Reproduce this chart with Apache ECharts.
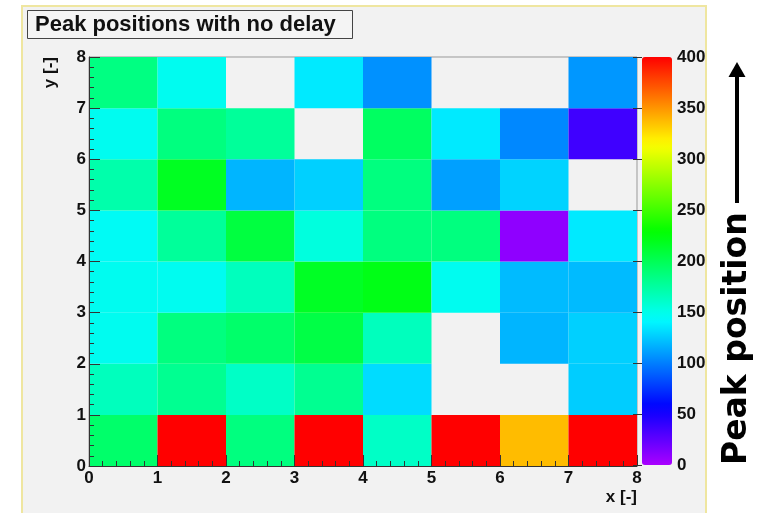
<!DOCTYPE html>
<html>
<head>
<meta charset="utf-8">
<script src="https://cdn.jsdelivr.net/npm/echarts@6/dist/echarts.min.js"></script>
<style>
html,body{margin:0;padding:0;background:#ffffff;}
#chart{width:759px;height:513px;}
</style>
</head>
<body>
<div id="chart"></div>
<script>
// Peak position per cell, columns x = 0..7; null = empty cell
var row0 = [193, 400, 186, 400, 162, 400, 337, 400]; // y 0-1
var row1 = [165, 180, 162, 180, 131, null, null, 126]; // y 1-2
var row2 = [147, 186, 193, 205, 165, null, 118, 127]; // y 2-3
var row3 = [147, 147, 165, 216, 221, 147, 120, 120]; // y 3-4
var row4 = [145, 177, 207, 154, 186, 186, 9, 136];   // y 4-5
var row5 = [171, 217, 118, 127, 186, 111, 128, null]; // y 5-6
var row6 = [147, 186, 177, null, 196, 136, 103, 36];  // y 6-7
var row7 = [185, 147, null, 136, 106, null, null, 108]; // y 7-8
var rows = [row0, row1, row2, row3, row4, row5, row6, row7];

var xTicks = [0, 1, 2, 3, 4, 5, 6, 7, 8];
var yTicks = [0, 1, 2, 3, 4, 5, 6, 7, 8];
var zTicks = [0, 50, 100, 150, 200, 250, 300, 350, 400];

var cells = [];
rows.forEach(function (r, y) {
  r.forEach(function (v, x) {
    if (v !== null) cells.push([x, y, v]);
  });
});

// ROOT-like rainbow palette (hue 280 -> 0)
var palette = [];
for (var i = 0; i <= 40; i++) {
  palette.push('hsl(' + (280 - i * 7) + ',100%,50%)');
}

var labelFont = {fontFamily: 'Liberation Sans', fontWeight: 'bold', fontSize: 17, color: '#111'};

var chart = echarts.init(document.getElementById('chart'), null, {renderer: 'canvas'});
chart.setOption({
  backgroundColor: '#ffffff',
  animation: false,
  graphic: [
    {type: 'rect', z: -10, shape: {x: 22, y: 6, width: 684, height: 520},
     style: {fill: '#f2f2f2', stroke: '#efe6a0', lineWidth: 2}},
    {type: 'rect', z: 100, shape: {x: 27.5, y: 10.5, width: 325, height: 28},
     style: {fill: '#f4f4f4', stroke: '#444', lineWidth: 1}},
    {type: 'text', z: 101, x: 35, y: 25,
     style: {text: 'Peak positions with no delay', fontFamily: 'Liberation Sans', fontWeight: 'bold',
             fontSize: 22, fill: '#111', verticalAlign: 'middle', align: 'left'}},
    {type: 'text', z: 101, x: 50, y: 57, rotation: Math.PI / 2,
     style: {text: 'y [-]', fontFamily: 'Liberation Sans', fontWeight: 'bold', fontSize: 17,
             fill: '#111', align: 'right', verticalAlign: 'middle'}},
    {type: 'text', z: 101, x: 637, y: 497,
     style: {text: 'x [-]', fontFamily: 'Liberation Sans', fontWeight: 'bold', fontSize: 17,
             fill: '#111', align: 'right', verticalAlign: 'middle'}},
    {type: 'text', z: 101, x: 737, y: 465, rotation: Math.PI / 2,
     style: {text: 'Peak position', fontFamily: 'DejaVu Sans', fontWeight: 'bold', fontSize: 33,
             fill: '#000', align: 'left', verticalAlign: 'middle'}},
    {type: 'line', z: 101, shape: {x1: 737, y1: 203, x2: 737, y2: 74},
     style: {stroke: '#000', lineWidth: 4}},
    {type: 'polygon', z: 101, shape: {points: [[728.5, 77], [745.5, 77], [737, 62]]},
     style: {fill: '#000'}}
  ],
  grid: [
    {left: 89, right: 122, top: 57, bottom: 47, show: true, borderColor: '#999', borderWidth: 1,
     backgroundColor: 'transparent'},
    {left: 642, width: 30, top: 57, height: 408, show: false}
  ],
  xAxis: [
    {type: 'value', gridIndex: 0, min: 0, max: 8, interval: 1, z: 10,
     axisLine: {show: true, lineStyle: {color: '#333', width: 1}},
     axisTick: {show: true, inside: true, length: 11, lineStyle: {color: '#333'}},
     minorTick: {show: true, splitNumber: 5, length: 5, lineStyle: {color: '#333'}},
     splitLine: {show: false},
     axisLabel: Object.assign({margin: 4, showMinLabel: true, showMaxLabel: true,
       formatter: function (v) { return xTicks.indexOf(v) >= 0 ? String(v) : ''; }}, labelFont)},
    {type: 'value', gridIndex: 1, min: 0, max: 1, show: false}
  ],
  yAxis: [
    {type: 'value', gridIndex: 0, min: 0, max: 8, interval: 1, z: 10,
     axisLine: {show: true, lineStyle: {color: '#333', width: 1}},
     axisTick: {show: true, inside: true, length: 11, lineStyle: {color: '#333'}},
     minorTick: {show: true, splitNumber: 5, length: 5, lineStyle: {color: '#333'}},
     splitLine: {show: false},
     axisLabel: Object.assign({margin: 3, showMinLabel: true, showMaxLabel: true,
       formatter: function (v) { return yTicks.indexOf(v) >= 0 ? String(v) : ''; }}, labelFont)},
    {type: 'value', gridIndex: 1, min: 0, max: 400, interval: 50, position: 'right', z: 10,
     axisLine: {show: false},
     axisTick: {show: true, inside: true, length: 9, lineStyle: {color: '#333'}},
     splitLine: {show: false},
     axisLabel: Object.assign({margin: 5, showMinLabel: true, showMaxLabel: true,
       formatter: function (v) { return zTicks.indexOf(v) >= 0 ? String(v) : ''; }}, labelFont)}
  ],
  visualMap: {
    type: 'continuous', min: 0, max: 400, seriesIndex: 0, calculable: false,
    left: 642, top: 57, itemWidth: 30, itemHeight: 408, padding: 0, text: null,
    inRange: {color: palette}
  },
  series: [{
    type: 'custom',
    xAxisIndex: 0, yAxisIndex: 0,
    data: cells,
    encode: {x: 0, y: 1},
    renderItem: function (params, api) {
      var x = api.value(0), y = api.value(1);
      var p0 = api.coord([x, y + 1]);
      var p1 = api.coord([x + 1, y]);
      return {
        type: 'rect',
        shape: {x: p0[0], y: p0[1], width: p1[0] - p0[0], height: p1[1] - p0[1]},
        style: {fill: api.visual('color')}
      };
    }
  }]
});
</script>
</body>
</html>
